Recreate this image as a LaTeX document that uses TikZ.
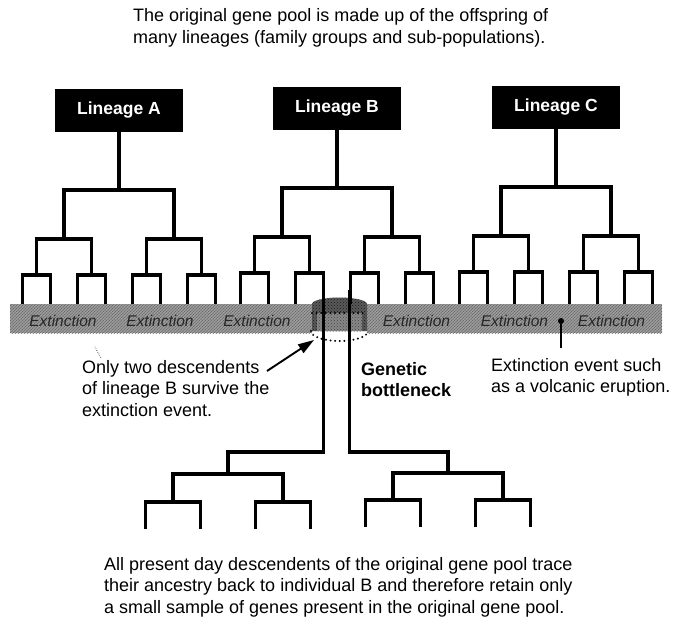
\documentclass[tikz,border=0pt]{standalone}
\usepackage{fontspec}
\setmainfont{Liberation Sans}
\usetikzlibrary{patterns,arrows.meta}
\begin{document}
\begin{tikzpicture}[x=1pt,y=-1pt,
  branch/.style={line width=3.3pt, line join=miter, line cap=butt},
  linbox/.style={fill=black, text=white, minimum width=128pt, minimum height=43pt,
    inner sep=0pt, font=\fontsize{17.5}{20}\selectfont\bfseries},
  body/.style={font=\fontsize{18}{21.5}\selectfont, align=left, inner sep=0pt},
  boldbody/.style={body, font=\fontsize{18}{21.5}\selectfont\bfseries},
  ext/.style={font=\fontsize{15.5}{18}\selectfont\itshape, text=black!85, inner sep=0pt},
  band/.style={fill=black!38, postaction={pattern=north east lines, pattern color=black!52},
    postaction={pattern=crosshatch dots, pattern color=black!60}},
  hole/.style={fill=black!65, postaction={pattern=crosshatch dots, pattern color=black!90}},
  dotline/.style={line width=2.2pt, dash pattern=on 0pt off 4.6pt, line cap=round}
]
\useasboundingbox (0,0) rectangle (684,643);

% heading
\node[body, anchor=north west] (intro) at (133,8.5)
  {The original gene pool is made up of the offspring of\\many lineages (family groups and sub-populations).};

% the extinction band, cut by the bottleneck
\path[band] (10,304) rectangle (312,333);
\path[band] (367,304) rectangle (662,333);
\path[hole] (312,304) arc[start angle=180, end angle=360, x radius=27.5, y radius=6.5]
  -- (367,331) -- (312,331) -- cycle;
\path[fill=black!47, postaction={pattern=crosshatch dots, pattern color=black!72}]
  (317,313) rectangle (362,331);
\draw[dotline] (312,313) -- (367,313);
\draw[dotline] (311,331) arc[start angle=180, end angle=0, x radius=28.5, y radius=10];

\foreach \x [count=\k] in {63,160,257,416.5,514.5,611.5}
  \node[ext] (ext\k) at (\x,321) {Extinction};

% lineage boxes
\node[linbox] (linA) at (119,110.5) {Lineage A};
\node[linbox] (linB) at (337,108.5) {Lineage B};
\node[linbox] (linC) at (556,107.5) {Lineage C};

% three-level family trees under each lineage
\foreach \n/\s/\d in {linA/119/0, linB/337/-2, linC/556/-3} {
  \draw[branch] (\n.south) -- (\s,190+\d);
  \draw[branch] (\s-55,239+\d) -- (\s-55,190+\d) -- (\s+55,190+\d) -- (\s+55,239+\d);
  \foreach \c in {-55,55} {
    \draw[branch] (\s+\c-27.5,275+\d) -- (\s+\c-27.5,239+\d) -- (\s+\c+27.5,239+\d) -- (\s+\c+27.5,275+\d);
    \foreach \e in {-27.5,27.5}
      \draw[branch] (\s+\c+\e-14,304) -- (\s+\c+\e-14,275+\d) -- (\s+\c+\e+14,275+\d) -- (\s+\c+\e+14,304);
  }
}

% the two survivors of lineage B pass through the bottleneck
\coordinate (survL) at (323.5,290);
\coordinate (survR) at (349.5,290);
\coordinate (rootL) at (228,452);
\coordinate (rootR) at (448,452);
\draw[branch] (survL) -- (survL |- rootL) -- (rootL) -- (228,474);
\draw[branch] (survR) -- (survR |- rootR) -- (rootR) -- (448,473);

% present day descendents
\foreach \s/\ya/\yb/\yc in {228/474/502/529, 448/473/500/527} {
  \draw[branch] (\s-55,\yb) -- (\s-55,\ya) -- (\s+55,\ya) -- (\s+55,\yb);
  \foreach \c in {-55,55}
    \draw[branch] (\s+\c-27.5,\yc) -- (\s+\c-27.5,\yb) -- (\s+\c+27.5,\yb) -- (\s+\c+27.5,\yc);
}

% annotations
\node[body, anchor=north west] (only) at (82,360)
  {Only two descendents\\of lineage B survive the\\extinction event.};
\draw[line width=0.9pt, dash pattern=on 0pt off 2pt, line cap=round] (95,347) -- (101,358);
\coordinate (arrowtail) at (267,371);
\coordinate (holeedge) at (314,340);
\draw[line width=1.9pt, -{Triangle[length=16pt,width=10pt]}] (arrowtail) -- (holeedge);

\node[boldbody, anchor=north west] (bneck) at (361,362) {Genetic\\bottleneck};

\node[circle, fill=black, inner sep=0pt, minimum size=6pt] (volc) at (561,321) {};
\coordinate (volcend) at (561,348);
\draw[line width=1.3pt] (volc) -- (volcend);
\node[body, anchor=north west] (event) at (491,358)
  {Extinction event such\\as a volcanic eruption.};

\node[body, anchor=north west] (summary) at (104,557)
  {All present day descendents of the original gene pool trace\\their ancestry back to individual B and therefore retain only\\a small sample of genes present in the original gene pool.};
\end{tikzpicture}
\end{document}
